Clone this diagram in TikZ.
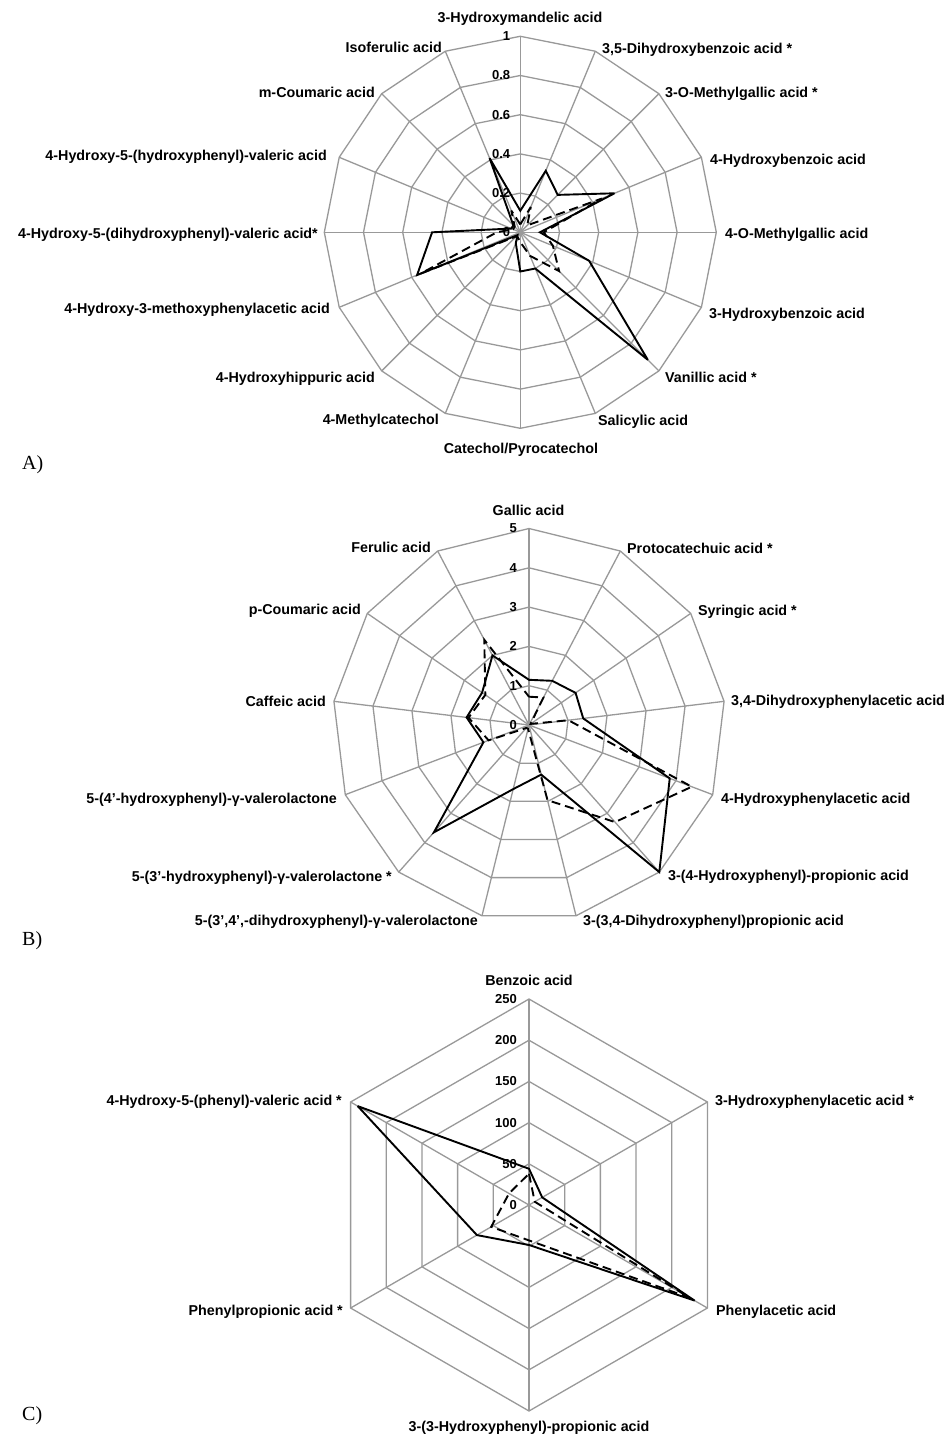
\documentclass[tikz,border=0pt]{standalone}
\usepackage{fontspec}
\setmainfont{Liberation Sans}
\newfontfamily\serifpanel{Liberation Serif}
\begin{document}
\begin{tikzpicture}[x=1pt,y=1pt,
  gridline/.style={draw=gray!80, line width=1.3pt},
  sline/.style={draw=black, line width=1.9pt, line join=miter, miter limit=4},
  dline/.style={draw=black, line width=1.9pt, line join=miter, miter limit=4, dash pattern=on 9pt off 5pt},
  lbl/.style={inner sep=0pt, font=\fontsize{14.3}{17}\selectfont\bfseries},
  lblW/.style={lbl, anchor=base west},
  lblE/.style={lbl, anchor=base east},
  lblC/.style={lbl, anchor=base},
  tick/.style={inner sep=0pt, anchor=east, font=\fontsize{13}{15}\selectfont\bfseries},
  panel/.style={inner sep=0pt, anchor=base west, font=\serifpanel\fontsize{20}{24}\selectfont}]
\useasboundingbox (0,0) rectangle (947,-1440);
\fill[white] (0,0) rectangle (947,-1440);

% ================= Chart A =================
\begin{scope}[shift={(520.3,-232.3)}]
  \foreach \k in {1,...,5}{
    \draw[gridline] (90:{\k*39.2}) \foreach \i in {1,...,15}{ -- ({90-\i*22.5}:{\k*39.2}) } -- cycle;
  }
  \foreach \i in {0,...,15} \draw[gridline] (0,0) -- ({90-\i*22.5}:196);
  \foreach \v [count=\i from 0] in {0.11,0.34,0.27,0.52,0.10,0.38,0.92,0.20,0.20,0.06,0.02,0.57,0.45,0.05,0.05,0.41}
    \coordinate (As\i) at ({90-\i*22.5}:{\v*196});
  \foreach \v [count=\i from 0] in {0.04,0.14,0.05,0.45,0.12,0.18,0.28,0.13,0.05,0.03,0.03,0.55,0.12,0.04,0.04,0.12}
    \coordinate (Ad\i) at ({90-\i*22.5}:{\v*196});
  \draw[sline] (As0) \foreach \i in {1,...,15}{ -- (As\i) } -- cycle;
  \draw[dline] (Ad0) \foreach \i in {1,...,15}{ -- (Ad\i) } -- cycle;
  \foreach \t [count=\k from 0] in {0,0.2,0.4,0.6,0.8,1}
    \node[tick] (At\k) at (-10,{\k*39.2}) {\t};
\end{scope}
\node[lblC] (A0) at (520,-22) {3-Hydroxymandelic acid};
\node[lblW] (A1) at (602,-53) {3,5-Dihydroxybenzoic acid *};
\node[lblW] (A2) at (665,-97) {3-O-Methylgallic acid *};
\node[lblW] (A3) at (710,-164) {4-Hydroxybenzoic acid};
\node[lblW] (A4) at (725,-238) {4-O-Methylgallic acid};
\node[lblW] (A5) at (709,-318) {3-Hydroxybenzoic acid};
\node[lblW] (A6) at (665,-382) {Vanillic acid *};
\node[lblW] (A7) at (598,-425) {Salicylic acid};
\node[lblC] (A8) at (521,-453) {Catechol/Pyrocatechol};
\node[lblE] (A9) at (439,-424) {4-Methylcatechol};
\node[lblE] (A10) at (375,-382) {4-Hydroxyhippuric acid};
\node[lblE] (A11) at (330,-313) {4-Hydroxy-3-methoxyphenylacetic acid};
\node[lblE] (A12) at (318,-238) {4-Hydroxy-5-(dihydroxyphenyl)-valeric acid*};
\node[lblE] (A13) at (327,-160) {4-Hydroxy-5-(hydroxyphenyl)-valeric acid};
\node[lblE] (A14) at (375,-97) {m-Coumaric acid};
\node[lblE] (A15) at (442,-52) {Isoferulic acid};
\node[panel] (PA) at (22,-469) {A)};

% ================= Chart B =================
\begin{scope}[shift={(529,-725)}]
  \foreach \k in {1,...,5}{
    \draw[gridline] (90:{\k*39.3}) \foreach \i in {1,...,12}{ -- ({90-\i*360/13}:{\k*39.3}) } -- cycle;
  }
  \foreach \i in {0,...,12} \draw[gridline] (0,0) -- ({90-\i*360/13}:196.5);
  \foreach \v [count=\i from 0] in {1.15,1.27,1.44,1.39,3.83,5.0,1.30,1.68,3.65,1.24,1.60,1.45,2.0}
    \coordinate (Bs\i) at ({90-\i*360/13}:{\v*39.3});
  \foreach \v [count=\i from 0] in {0.72,0.79,0.05,1.01,4.43,3.3,1.97,0.1,0.1,1.10,1.55,1.35,2.45}
    \coordinate (Bd\i) at ({90-\i*360/13}:{\v*39.3});
  \draw[sline] (Bs0) \foreach \i in {1,...,12}{ -- (Bs\i) } -- cycle;
  \draw[dline] (Bd0) \foreach \i in {1,...,12}{ -- (Bd\i) } -- cycle;
  \foreach \t [count=\k from 0] in {0,1,2,3,4,5}
    \node[tick] (Bt\k) at (-12,{\k*39.3}) {\t};
\end{scope}
\node[lblC] (B0) at (528.5,-515.7) {Gallic acid};
\node[lblW] (B1) at (627,-553.3) {Protocatechuic acid *};
\node[lblW] (B2) at (698,-615.7) {Syringic acid *};
\node[lblW] (B3) at (731,-705) {3,4-Dihydroxyphenylacetic acid};
\node[lblW] (B4) at (721,-803.3) {4-Hydroxyphenylacetic acid};
\node[lblW] (B5) at (668,-880) {3-(4-Hydroxyphenyl)-propionic acid};
\node[lblW] (B6) at (583,-925) {3-(3,4-Dihydroxyphenyl)propionic acid};
\node[lblE] (B7) at (478,-925) {5-(3',4',-dihydroxyphenyl)-γ-valerolactone};
\node[lblE] (B8) at (392,-881.7) {5-(3'-hydroxyphenyl)-γ-valerolactone *};
\node[lblE] (B9) at (337,-803.3) {5-(4'-hydroxyphenyl)-γ-valerolactone};
\node[lblE] (B10) at (326,-706) {Caffeic acid};
\node[lblE] (B11) at (361,-614.3) {p-Coumaric acid};
\node[lblE] (B12) at (431,-552.3) {Ferulic acid};
\node[panel] (PB) at (22,-945) {B)};

% ================= Chart C =================
\begin{scope}[shift={(529,-1205)}]
  \foreach \k in {1,...,5}{
    \draw[gridline] (90:{\k*41.2}) \foreach \i in {1,...,5}{ -- ({90-\i*60}:{\k*41.2}) } -- cycle;
  }
  \foreach \i in {0,...,5} \draw[gridline] (0,0) -- ({90-\i*60}:206);
  \foreach \v [count=\i from 0] in {44,18.5,232,48.5,73,240}
    \coordinate (Cs\i) at ({90-\i*60}:{\v*0.824});
  \foreach \v [count=\i from 0] in {38,8,225,43,53,28}
    \coordinate (Cd\i) at ({90-\i*60}:{\v*0.824});
  \draw[sline] (Cs0) \foreach \i in {1,...,5}{ -- (Cs\i) } -- cycle;
  \draw[dline] (Cd0) \foreach \i in {1,...,5}{ -- (Cd\i) } -- cycle;
  \foreach \t [count=\k from 0] in {0,50,100,150,200,250}
    \node[tick] (Ct\k) at (-12,{\k*41.2}) {\t};
\end{scope}
\node[lblC] (C0) at (529,-985.7) {Benzoic acid};
\node[lblW] (C1) at (715,-1105) {3-Hydroxyphenylacetic acid *};
\node[lblW] (C2) at (716,-1315) {Phenylacetic acid};
\node[lblC] (C3) at (529,-1431) {3-(3-Hydroxyphenyl)-propionic acid};
\node[lblE] (C4) at (343,-1315) {Phenylpropionic acid *};
\node[lblE] (C5) at (342,-1105) {4-Hydroxy-5-(phenyl)-valeric acid *};
\node[panel] (PC) at (22,-1420) {C)};
\end{tikzpicture}
\end{document}
